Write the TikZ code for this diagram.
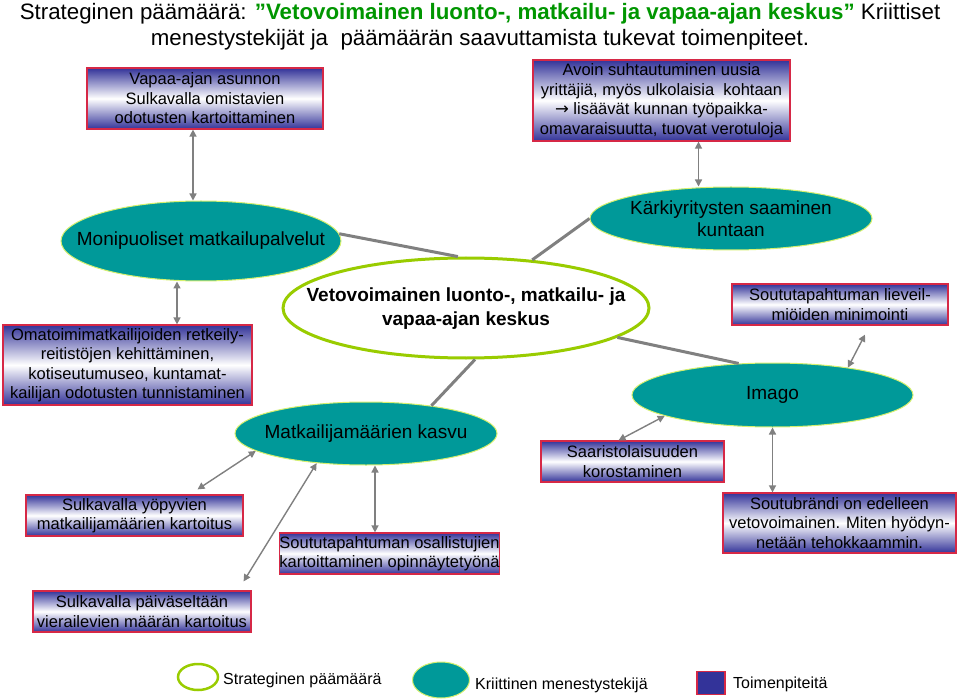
\documentclass[tikz,border=0pt]{standalone}
\usepackage{fontspec}
\setmainfont{Liberation Sans}
\newfontfamily\arrowfont{DejaVu Sans}
\usetikzlibrary{arrows.meta,shapes.geometric}
\definecolor{tpblue}{RGB}{51,51,153}
\definecolor{tpred}{RGB}{214,40,70}
\definecolor{cfteal}{RGB}{0,153,153}
\definecolor{cfrim}{RGB}{214,240,110}
\definecolor{goalgreen}{RGB}{153,204,0}
\definecolor{linkgray}{RGB}{128,128,128}
\definecolor{titlegreen}{RGB}{0,150,0}
\newcommand{\bx}{\fontsize{16.5}{19.5}\selectfont}
\newcommand{\el}{\fontsize{19}{22.5}\selectfont}

\begin{document}
\begin{tikzpicture}[
  x=1pt, y=-1pt,
  >={Triangle[length=7pt,width=7pt]},
  toimi/.style={draw=tpred, line width=1.2pt, top color=tpblue, bottom color=tpblue, middle color=white, align=center, inner sep=0pt, font=\bx},
  tekija/.style={ellipse, draw=cfrim, line width=1pt, fill=cfteal, inner sep=0pt},
  paamaara/.style={ellipse, draw=goalgreen, line width=3pt, fill=white, inner sep=0pt},
  every label/.style={font=\el, align=center, inner sep=0pt},
  tie/.style={linkgray, line width=3pt},
  link/.style={<->, linkgray, line width=1.4pt},
  legtext/.style={anchor=west, inner sep=0pt, font=\fontsize{16}{19}\selectfont},
]
  \useasboundingbox[fill=white] (0,0) rectangle (960,700);

  \node[font=\fontsize{22.3}{26}\selectfont, align=center] (otsikko) at (480,27)
    {Strateginen päämäärä: {\color{titlegreen}\bfseries ”Vetovoimainen luonto-, matkailu- ja vapaa-ajan keskus”} Kriittiset\\
     menestystekijät ja \ päämäärän saavuttamista tukevat toimenpiteet.};

  % toimenpiteet
  \node[toimi, minimum width=236pt, minimum height=61pt] (asunto) at (205,98.5)
    {Vapaa-ajan asunnon\\Sulkavalla omistavien\\odotusten kartoittaminen};
  \node[toimi, minimum width=257pt, minimum height=81pt] (yrittajat) at (661.5,100.5)
    {Avoin suhtautuminen uusia\\yrittäjiä, myös ulkolaisia \ kohtaan\\{\arrowfont →} lisäävät kunnan työpaikka-\\omavaraisuutta, tuovat verotuloja};
  \node[toimi, minimum width=249pt, minimum height=80pt] (retkeily) at (127.5,365)
    {Omatoimimatkailijoiden retkeily-\\reitistöjen kehittäminen,\\kotiseutumuseo, kuntamat-\\kailijan odotusten tunnistaminen};
  \node[toimi, minimum width=216pt, minimum height=41pt] (lieve) at (840,304.5)
    {Soututapahtuman lieveil-\\miöiden minimointi};
  \node[toimi, minimum width=183pt, minimum height=41pt] (saaristo) at (632.5,461.5)
    {Saaristolaisuuden\\korostaminen};
  \node[toimi, minimum width=217pt, minimum height=41pt] (yopyvat) at (134.5,515.5)
    {Sulkavalla yöpyvien\\matkailijamäärien kartoitus};
  \node[toimi, minimum width=217pt, minimum height=41pt] (osallistujat) at (389.5,553.5)
    {Soututapahtuman osallistujien\\kartoittaminen opinnäytetyönä};
  \node[toimi, minimum width=233pt, minimum height=60pt] (brandi) at (839.5,523)
    {Soutubrändi on edelleen\\vetovoimainen. Miten hyödyn-\\netään tehokkaammin.};
  \node[toimi, minimum width=218pt, minimum height=41pt] (paivakavijat) at (142,611.5)
    {Sulkavalla päiväseltään\\vierailevien määrän kartoitus};

  % menestystekijat ja paamaara
  \node[tekija, minimum width=280pt, minimum height=80pt, label={center:Monipuoliset matkailupalvelut}] (palvelut) at (201,241) {};
  \node[tekija, minimum width=282pt, minimum height=63pt, label={center:Kärkiyritysten saaminen\\kuntaan}] (karki) at (731,218.5) {};
  \node[paamaara, minimum width=366pt, minimum height=100pt, label={[font=\fontsize{19}{24}\selectfont\bfseries, yshift=-1pt]center:Vetovoimainen luonto-, matkailu- ja\\vapaa-ajan keskus}] (keskus) at (466,308) {};
  \node[tekija, minimum width=281pt, minimum height=64pt, label={center:Imago}] (imago) at (772.5,395) {};
  \node[tekija, minimum width=262pt, minimum height=63pt, label={center:Matkailijamäärien kasvu}] (kasvu) at (366,433.5) {};

  \draw[tie] (palvelut.3) -- (keskus.99);
  \draw[tie] (karki.west) -- (keskus.36);
  \draw[tie] (keskus.-11) -- (imago.137);
  \draw[tie] (keskus.-80) -- (kasvu.23);

  \draw[link] ([xshift=-12pt]asunto.south) -- ([xshift=-12pt]asunto.south |- palvelut.north);
  \draw[link] ([xshift=37pt]yrittajat.south) -- ([xshift=37pt]yrittajat.south |- karki.north);
  \draw[link] ([xshift=-24pt]palvelut.south) -- ([xshift=-24pt]palvelut.south |- retkeily.north);
  \draw[link] ([xshift=25pt,yshift=-9pt]lieve.south) -- (imago.20);
  \draw[link] (imago.191) -- ([xshift=-14pt]saaristo.north);
  \draw[link] (imago.south) -- (imago.south |- brandi.north);
  \draw[link] (kasvu.189) -- ([xshift=63pt,yshift=5pt]yopyvat.north);
  \draw[link] (kasvu.211) -- ([xshift=-8pt,yshift=9pt]paivakavijat.north east);
  \draw[link] ([xshift=9pt]kasvu.south) -- ([xshift=9pt]kasvu.south |- osallistujat.north);

  % selite
  \node[paamaara, line width=2.5pt, minimum width=40pt, minimum height=26pt] (selite1) at (198,677) {};
  \node[legtext] at (223,680) {Strateginen päämäärä};
  \node[tekija, minimum width=57pt, minimum height=36pt] (selite2) at (441,680) {};
  \node[legtext] at (475,685) {Kriittinen menestystekijä};
  \node[draw=tpred, line width=1.2pt, fill=tpblue, minimum width=28pt, minimum height=23pt, inner sep=0pt] (selite3) at (711,683) {};
  \node[legtext] at (733,684) {Toimenpiteitä};
\end{tikzpicture}
\end{document}
